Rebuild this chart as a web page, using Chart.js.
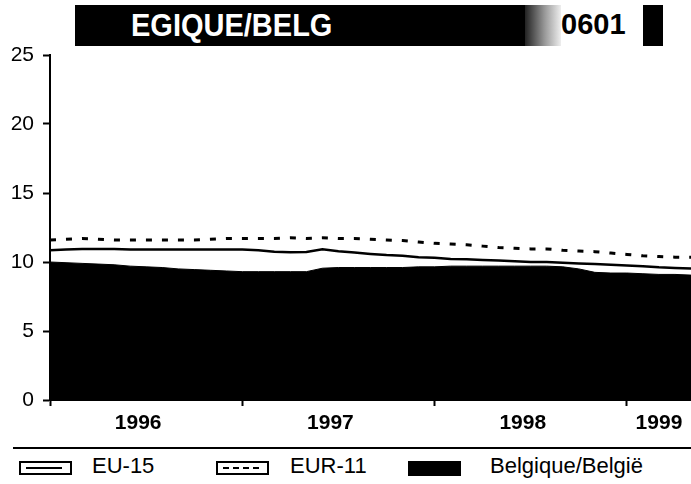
<!DOCTYPE html>
<html>
<head>
<meta charset="utf-8">
<script src="https://cdn.jsdelivr.net/npm/chart.js@4.4.1/dist/chart.umd.min.js"></script>
<style>
  body { margin: 0; background: #fff; font-family: "Liberation Sans", Arial, sans-serif; }
  #page { position: relative; width: 691px; height: 484px; overflow: hidden; }
  #chartBox { position: absolute; left: 0; top: 0; width: 691px; height: 440px; }
  .bar { position: absolute; background: #000; }
  #titleText { position: absolute; left: 131px; top: 8px; color: #fff; font: bold 29px "Liberation Sans", Arial, sans-serif; transform: scaleY(1.08); transform-origin: left top; }
  #code { position: absolute; left: 561px; top: 8px; color: #000; font: bold 29px "Liberation Sans", Arial, sans-serif; }
  #rule { position: absolute; left: 13px; top: 447px; width: 678px; height: 2px; background: #000; }
  .lg { position: absolute; top: 453px; font-size: 22px; color: #000; }
  .swatch { position: absolute; top: 461px; width: 53px; height: 14px; box-sizing: border-box; border: 2px solid #000; }
  .swatch span { position: absolute; left: 5px; right: 8px; top: 4px; }
</style>
</head>
<body>
<div id="page">
  <div class="bar" style="left:75px; top:5px; width:452px; height:41px;"></div>
  <div class="bar" style="left:525px; top:5px; width:36px; height:41px; background:linear-gradient(90deg,#222,#999 55%,#eee);"></div>
  <div id="titleText">EGIQUE/BELG</div>
  <div id="code">0601</div>
  <div class="bar" style="left:643px; top:5px; width:20px; height:41px;"></div>
  <div id="chartBox"><canvas id="myChart"></canvas></div>
  <div id="rule"></div>
  <div class="swatch" style="left:19px;"><span style="border-top:2px solid #000;"></span></div>
  <div class="lg" style="left:92px;">EU-15</div>
  <div class="swatch" style="left:216px;"><span style="border-top:2px dashed #000;"></span></div>
  <div class="lg" style="left:290px;">EUR-11</div>
  <div class="swatch" style="left:408px; height:15px; background:#000;"></div>
  <div class="lg" style="left:490px;">Belgique/België</div>
</div>
<script>
// monthly, Jan 1996 - May 1999
const months = [];
for (let y = 1996; y <= 1999; y++) {
    for (let m = 1; m <= 12; m++) {
        if (y === 1999 && m > 5) break;
        months.push(y + '-' + (m < 10 ? '0' + m : m));
    }
}
const years = ['1996', '1997', '1998', '1999'];

const eu15 = [
    10.85, 10.9, 10.95, 10.95, 10.95, 10.9, 10.9, 10.9, 10.9, 10.9, 10.9, 10.9,
    10.9, 10.85, 10.75, 10.7, 10.72, 10.92, 10.78, 10.68, 10.58, 10.5, 10.45, 10.35,
    10.3, 10.22, 10.2, 10.15, 10.1, 10.05, 10.0, 10.0, 9.95, 9.9, 9.85, 9.8,
    9.75, 9.7, 9.62, 9.57, 9.52
];
const eur11 = [
    11.6, 11.65, 11.7, 11.65, 11.6, 11.6, 11.6, 11.6, 11.6, 11.6, 11.65, 11.7,
    11.7, 11.7, 11.7, 11.75, 11.7, 11.75, 11.7, 11.7, 11.65, 11.6, 11.55, 11.45,
    11.35, 11.3, 11.25, 11.15, 11.05, 11.0, 10.95, 10.95, 10.85, 10.8, 10.75, 10.65,
    10.55, 10.45, 10.4, 10.35, 10.35
];
const belgium = [
    10.0, 9.95, 9.9, 9.85, 9.8, 9.7, 9.65, 9.6, 9.5, 9.45, 9.4, 9.35,
    9.3, 9.3, 9.3, 9.3, 9.3, 9.55, 9.6, 9.6, 9.6, 9.6, 9.6, 9.65,
    9.65, 9.7, 9.7, 9.7, 9.7, 9.7, 9.7, 9.7, 9.65, 9.5, 9.25, 9.2,
    9.2, 9.15, 9.1, 9.1, 9.05
];

// year boundaries get a tick mark, year names sit between the first and last month shown
const lastIdx = months.length - 1;
const tickMarks = [];
const labelPos = {};
years.forEach((yr, k) => {
    const start = k * 12;
    const end = Math.min(start + 11, lastIdx);
    tickMarks.push(start);
    labelPos[(start + end) / 2] = yr;
});

const tickFont = '"Liberation Sans", Arial, sans-serif';

const config = {
    type: 'line',
    data: {
        labels: months,
        datasets: [{
            label: 'EU-15',
            data: eu15,
            borderColor: '#000',
            borderWidth: 2.5,
            pointRadius: 0,
            fill: false
        }, {
            label: 'EUR-11',
            data: eur11,
            borderColor: '#000',
            borderWidth: 3,
            borderDash: [6, 10],
            pointRadius: 0,
            fill: false
        }, {
            label: 'Belgique/België',
            data: belgium,
            borderColor: '#000',
            backgroundColor: '#000',
            borderWidth: 1,
            pointRadius: 0,
            fill: 'origin'
        }]
    },
    options: {
        responsive: true,
        maintainAspectRatio: false,
        animation: false,
        layout: { padding: { top: 55, right: 0, bottom: 0, left: 0 } },
        plugins: { legend: { display: false }, tooltip: { enabled: false } },
        scales: {
            x: {
                offset: false,
                border: { display: true, color: '#000', width: 2 },
                grid: {
                    drawOnChartArea: false,
                    tickLength: 6,
                    tickWidth: 2,
                    tickColor: ctx => (ctx.tick && tickMarks.includes(ctx.tick.value)) ? '#000' : 'rgba(0,0,0,0)'
                },
                afterBuildTicks: scale => {
                    const vals = tickMarks.concat(Object.keys(labelPos).map(Number)).sort((a, b) => a - b);
                    scale.ticks = vals.map(v => ({ value: v }));
                },
                afterFit: scale => { scale.height = 40; },
                ticks: {
                    autoSkip: false,
                    maxRotation: 0,
                    padding: 5,
                    color: '#000',
                    font: { family: tickFont, size: 21, weight: 'bold' },
                    callback: v => labelPos[v] || ''
                }
            },
            y: {
                min: 0,
                max: 25,
                border: { display: true, color: '#000', width: 2 },
                grid: { drawOnChartArea: false, tickLength: 7, tickWidth: 2, tickColor: '#000' },
                afterFit: scale => { scale.width = 50; },
                ticks: {
                    stepSize: 5,
                    padding: 9,
                    color: '#000',
                    font: { family: tickFont, size: 21 }
                }
            }
        }
    }
};

new Chart(document.getElementById('myChart'), config);
</script>
</body>
</html>
